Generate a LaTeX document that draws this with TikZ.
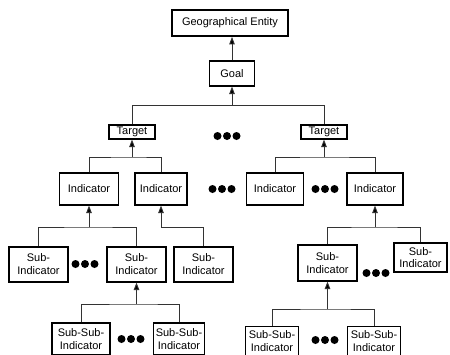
\documentclass[tikz,border=0pt]{standalone}
\usepackage{fontspec}
\setmainfont{Liberation Sans}
\usetikzlibrary{positioning, arrows.meta}

\tikzset{
    box/.style={rectangle, draw, line width=1.1pt, inner sep=0pt, align=center, font=\fontsize{11}{13}\selectfont},
    link/.style={draw=black!80, line width=0.9pt},
    arr/.style={link, -{Triangle[length=7.5pt, width=5.5pt, fill=black]}},
    dotrow/.pic={\foreach \dx in {-9.5,0,9.5} \fill (\dx,0) circle (4pt);}
}

\begin{document}
\begin{tikzpicture}[x=1pt, y=-1pt]
    \useasboundingbox (0,0) rectangle (450,354);
    \clip (0,0) rectangle (450,354);

    % Top of the hierarchy
    \node[box, line width=1.8pt, minimum width=116pt, minimum height=26pt] (geo) at (230,23) {Geographical Entity};
    \node[box, minimum width=45pt, minimum height=25pt] (goal) at (232,73.5) {Goal};

    % Targets
    \node[box, minimum width=46pt, minimum height=14pt] (tgtA) at (132,132) {Target};
    \node[box, minimum width=46pt, minimum height=14pt] (tgtB) at (324,132) {Target};
    \pic at (227,136) {dotrow};

    % Indicators
    \node[box, minimum width=59pt, minimum height=32pt] (indA) at (89,189) {Indicator};
    \node[box, minimum width=52pt, minimum height=32pt] (indB) at (161,189) {Indicator};
    \node[box, minimum width=57pt, minimum height=32pt] (indC) at (275,189) {Indicator};
    \node[box, minimum width=56pt, minimum height=32pt] (indD) at (375,189) {Indicator};
    \pic at (222,189) {dotrow};
    \pic at (325,189) {dotrow};

    % Sub-indicators
    \node[box, minimum width=59pt, minimum height=35pt] (subA) at (38.5,264.5) {Sub-\\Indicator};
    \node[box, minimum width=59pt, minimum height=35pt] (subB) at (136.5,264.5) {Sub-\\Indicator};
    \node[box, minimum width=59pt, minimum height=35pt] (subC) at (203.5,264.5) {Sub-\\Indicator};
    \node[box, minimum width=59pt, minimum height=36pt] (subD) at (327.5,263) {Sub-\\Indicator};
    \node[box, font=\fontsize{11}{12}\selectfont, minimum width=53pt, minimum height=29pt] (subE) at (420.5,257.5) {Sub-\\Indicator};
    \pic at (85,264) {dotrow};
    \pic at (376,273) {dotrow};

    % Sub-sub-indicators
    \node[box, minimum width=58pt, minimum height=32pt] (ssA) at (81,339) {Sub-Sub-\\Indicator};
    \node[box, minimum width=51pt, minimum height=32pt] (ssB) at (179,339) {Sub-Sub-\\Indicator};
    \node[box, minimum width=53pt, minimum height=30pt] (ssC) at (272,341.5) {Sub-Sub-\\Indicator};
    \node[box, minimum width=53pt, minimum height=30pt] (ssD) at (374,341.5) {Sub-Sub-\\Indicator};
    \pic at (131,339) {dotrow};
    \pic at (325,340) {dotrow};

    % Junctions
    \coordinate (jGoal) at (232,105.5);
    \coordinate (jA) at (132,157);
    \coordinate (jB) at (324,157);
    \coordinate (jC) at (89,227);
    \coordinate (jD) at (161,227);
    \coordinate (jE) at (375,227);
    \coordinate (jF) at (136.5,304);
    \coordinate (jG) at (327.5,309);

    % Connectors
    \draw[arr] (goal.north) -- (goal.north |- geo.south);
    \draw[link] (tgtA.north) |- (jGoal) -| (tgtB.north);
    \draw[arr] (jGoal) -- (goal.south);
    \draw[link] (indA.north) |- (jA) -| (indB.north);
    \draw[arr] (jA) -- (tgtA.south);
    \draw[link] (indC.north) |- (jB) -| (indD.north);
    \draw[arr] (jB) -- (tgtB.south);
    \draw[link] (subA.north) |- (jC) -| (subB.north);
    \draw[arr] (jC) -- (indA.south);
    \draw[link] (jD) -| (subC.north);
    \draw[arr] (jD) -- (indB.south);
    \draw[link] (subD.north) |- (jE) -| (subE.north);
    \draw[arr] (jE) -- (indD.south);
    \draw[link] (ssA.north) |- (jF) -| (ssB.north);
    \draw[arr] (jF) -- (subB.south);
    \draw[link] (ssC.north) |- (jG) -| (ssD.north);
    \draw[arr] (jG) -- (subD.south);
\end{tikzpicture}
\end{document}
